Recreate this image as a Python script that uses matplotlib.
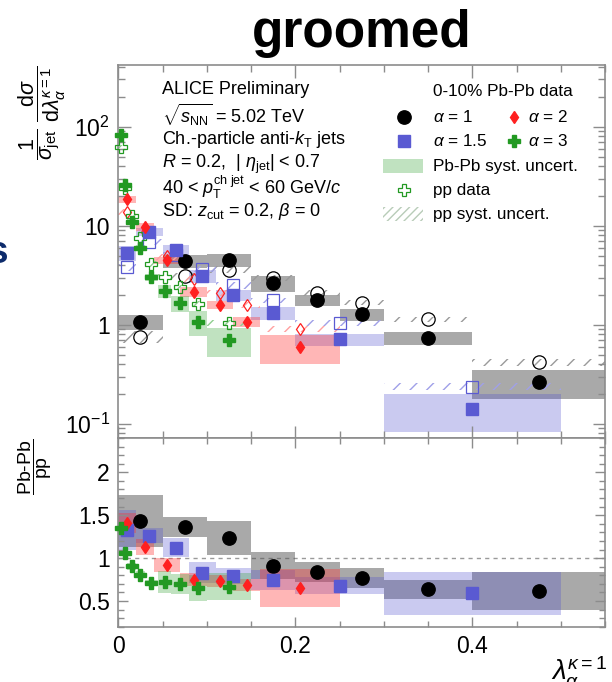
import numpy as np
import matplotlib.pyplot as plt
from matplotlib.patches import Rectangle
from matplotlib.ticker import FixedLocator, MultipleLocator, NullFormatter, LogLocator

plt.rcParams["font.family"] = ["Liberation Sans", "DejaVu Sans"]
plt.rcParams["mathtext.fontset"] = "custom"
plt.rcParams["mathtext.rm"] = "Liberation Sans"
plt.rcParams["mathtext.it"] = "Liberation Sans:italic"
plt.rcParams["mathtext.bf"] = "Liberation Sans:bold"
plt.rcParams["hatch.linewidth"] = 1.0

# alpha = 1
a1_edges = [0, 0.05, 0.1, 0.15, 0.2, 0.25, 0.3, 0.4, 0.55]
a1_pbpb = [1.08, 4.4, 4.5, 2.63, 1.78, 1.28, 0.73, 0.265]
a1_pbpb_sys = [0.17, 0.15, 0.14, 0.19, 0.12, 0.14, 0.15, 0.33]
a1_pp = [0.76, 3.1, 3.6, 2.95, 2.11, 1.67, 1.14, 0.42]
a1_pp_sys = [0.14, 0.08, 0.08, 0.07, 0.07, 0.06, 0.06, 0.08]
a1_ratio = [1.43, 1.365, 1.235, 0.913, 0.843, 0.765, 0.635, 0.62]
a1_ratio_sys = [0.30, 0.115, 0.20, 0.16, 0.117, 0.117, 0.107, 0.22]

# alpha = 1.5
a15_edges = [0, 0.02, 0.05, 0.08, 0.11, 0.15, 0.2, 0.3, 0.5]
a15_pbpb = [5.35, 8.7, 5.7, 3.1, 2.0, 1.31, 0.716, 0.142]
a15_pbpb_sys = [0.18, 0.10, 0.12, 0.15, 0.12, 0.15, 0.14, 0.42]
a15_pp = [3.8, 6.9, 5.1, 3.7, 2.5, 1.78, 1.05, 0.238]
a15_pp_sys = [0.08, 0.07, 0.07, 0.07, 0.07, 0.06, 0.07, 0.08]
a15_ratio = [1.33, 1.26, 1.12, 0.83, 0.79, 0.745, 0.68, 0.588]
a15_ratio_sys = [0.235, 0.085, 0.11, 0.125, 0.09, 0.115, 0.10, 0.25]

# alpha = 2
a2_edges = [0, 0.02, 0.04, 0.07, 0.1, 0.13, 0.16, 0.25]
a2_pbpb = [18.5, 9.8, 4.5, 2.16, 1.59, 1.08, 0.594]
a2_pbpb_sys = [0.08, 0.09, 0.08, 0.12, 0.10, 0.12, 0.33]
a2_pp = [13.9, 8.7, 4.9, 2.88, 2.11, 1.59, 0.90]
a2_pp_sys = [0.07, 0.07, 0.07, 0.07, 0.07, 0.07, 0.07]
a2_ratio = [1.41, 1.13, 0.92, 0.75, 0.73, 0.69, 0.647]
a2_ratio_sys = [0.12, 0.09, 0.08, 0.08, 0.07, 0.07, 0.22]

# alpha = 3
a3_edges = [0, 0.005, 0.01, 0.02, 0.03, 0.045, 0.06, 0.08, 0.1, 0.15]
a3_pbpb = [82, 25.8, 11.0, 5.93, 3.02, 2.21, 1.65, 1.08, 0.70]
a3_pbpb_sys = [0.06, 0.06, 0.06, 0.07, 0.08, 0.15, 0.18, 0.28, 0.32]
a3_pp = [62, 24.3, 12.5, 7.5, 4.12, 3.06, 2.4, 1.63, 1.05]
a3_pp_sys = [0.06, 0.06, 0.06, 0.06, 0.06, 0.06, 0.06, 0.07, 0.07]
a3_ratio = [1.35, 1.06, 0.905, 0.805, 0.71, 0.725, 0.70, 0.647, 0.666]
a3_ratio_sys = [0.04, 0.04, 0.04, 0.04, 0.04, 0.13, 0.12, 0.15, 0.16]

series = [
    dict(edges=a1_edges, pbpb=a1_pbpb, pbpb_sys=a1_pbpb_sys, pp=a1_pp, pp_sys=a1_pp_sys,
         ratio=a1_ratio, ratio_sys=a1_ratio_sys, color="black", band="#555555", band_alpha=0.5,
         hatch="#9a9a9a", marker="o", ms=9.6),
    dict(edges=a15_edges, pbpb=a15_pbpb, pbpb_sys=a15_pbpb_sys, pp=a15_pp, pp_sys=a15_pp_sys,
         ratio=a15_ratio, ratio_sys=a15_ratio_sys, color="#5a5ad2", band="#5050d0", band_alpha=0.3,
         hatch="#a0a0e8", marker="s", ms=9.2),
    dict(edges=a2_edges, pbpb=a2_pbpb, pbpb_sys=a2_pbpb_sys, pp=a2_pp, pp_sys=a2_pp_sys,
         ratio=a2_ratio, ratio_sys=a2_ratio_sys, color="#ff2020", band="#ff3030", band_alpha=0.35,
         hatch="#ffa0a0", marker="d", ms=6.0),
    dict(edges=a3_edges, pbpb=a3_pbpb, pbpb_sys=a3_pbpb_sys, pp=a3_pp, pp_sys=a3_pp_sys,
         ratio=a3_ratio, ratio_sys=a3_ratio_sys, color="#229922", band="#30a030", band_alpha=0.3,
         hatch="#90d090", marker="P", ms=9.2),
]

W, H = 612, 682
fig = plt.figure(figsize=(W / 100, H / 100), dpi=100)
ax = fig.add_axes([118.3 / W, 1 - 438 / H, (605 - 118.3) / W, (438 - 65) / H])
axr = fig.add_axes([118.3 / W, 1 - 626.7 / H, (605 - 118.3) / W, (626.7 - 438) / H])

# systematic bands
for s in series:
    e = np.asarray(s["edges"])
    lo, wd = e[:-1], np.diff(e)
    v = np.asarray(s["pbpb"]); dv = v * np.asarray(s["pbpb_sys"])
    ax.bar(lo, 2 * dv, width=wd, bottom=v - dv, align="edge", color=s["band"],
           alpha=s["band_alpha"], linewidth=0, zorder=1)
    p = np.asarray(s["pp"]); dp = p * np.asarray(s["pp_sys"])
    ax.bar(lo, 2 * dp, width=wd, bottom=p - dp, align="edge", facecolor="none",
           edgecolor=s["hatch"], hatch="//", linewidth=0, zorder=1.5)
    r = np.asarray(s["ratio"]); dr = np.asarray(s["ratio_sys"])
    axr.bar(lo, 2 * dr, width=wd, bottom=r - dr, align="edge", color=s["band"],
            alpha=s["band_alpha"], linewidth=0, zorder=1)

# data points
for s in series:
    e = np.asarray(s["edges"])
    x = 0.5 * (e[:-1] + e[1:])
    ax.plot(x, s["pbpb"], ls="none", marker=s["marker"], ms=s["ms"], color=s["color"],
            mec=s["color"], zorder=4, clip_on=False)
    ax.plot(x, s["pp"], ls="none", marker=s["marker"], ms=s["ms"], mfc="none",
            mec=s["color"], mew=0.9, zorder=3, clip_on=False)
    axr.plot(x, s["ratio"], ls="none", marker=s["marker"], ms=s["ms"], color=s["color"],
             mec=s["color"], zorder=4, clip_on=False)

axr.axhline(1, color="#9a9a9a", ls=(0, (3, 3)), lw=1, zorder=0.5)

# axes styling
for a in (ax, axr):
    for sp in a.spines.values():
        sp.set_color("#8c8c8c")
        sp.set_linewidth(1.2)
    a.set_xlim(0, 0.55)
    a.xaxis.set_major_locator(FixedLocator([0, 0.2, 0.4]))
    a.xaxis.set_minor_locator(MultipleLocator(0.05))
    a.tick_params(which="both", direction="in", top=True, right=True, color="#8c8c8c",
                  labelsize=16.5, width=1, pad=6)

ax.set_yscale("log")
ax.set_ylim(0.072, 420)
ax.yaxis.set_major_locator(FixedLocator([0.1, 1, 10, 100]))
ax.set_yticklabels([r"$10^{-1}$", "1", "10", r"$10^{2}$"])
ax.yaxis.set_minor_locator(LogLocator(subs=np.arange(2, 10)))
ax.yaxis.set_minor_formatter(NullFormatter())
ax.tick_params(which="major", length=9)
ax.tick_params(which="minor", length=5)
ax.tick_params(axis="x", labelbottom=False)

axr.set_ylim(0.2, 2.4)
axr.yaxis.set_major_locator(FixedLocator([0.5, 1, 1.5, 2]))
axr.set_yticklabels(["0.5", "1", "1.5", "2"])
axr.yaxis.set_minor_locator(MultipleLocator(0.1))
axr.set_xticklabels(["0", "0.2", "0.4"])
axr.tick_params(which="major", length=7)
axr.tick_params(which="minor", length=4)

# text block
info = [
    "ALICE Preliminary",
    r"$\sqrt{s_{\rm NN}}$ = 5.02 TeV",
    r"Ch.-particle anti-$k_{\rm T}$ jets",
    r"$R$ = 0.2,  | $\eta_{\rm jet}$| < 0.7",
    r"40 < $p_{\rm T}^{\rm ch\ jet}$ < 60 GeV/$c$",
    r"SD: $z_{\rm cut}$ = 0.2, $\beta$ = 0",
]
info_y = [90, 115, 139, 164, 187, 211.7]
for t, py in zip(info, info_y):
    ax.text(0.0898, 1 - (py - 65) / 373, t, transform=ax.transAxes, fontsize=13,
            ha="left", va="center")


# legend
def ax_xy(px, py):
    return (px - 118.3) / 486.7, 1 - (py - 65) / 373


lg = 12.3
ax.text(*ax_xy(433, 92), "0-10% Pb-Pb data", transform=ax.transAxes, fontsize=lg, va="center")
legend_rows = [
    (404, 117, series[0], r"$\alpha$ = 1", 433),
    (514, 117, series[2], r"$\alpha$ = 2", 528),
    (404, 141, series[1], r"$\alpha$ = 1.5", 433),
    (514, 141, series[3], r"$\alpha$ = 3", 528),
]
for mx, my, s, lab, tx in legend_rows:
    ax.plot(*ax_xy(mx, my), marker=s["marker"], ms=s["ms"], color=s["color"],
            transform=ax.transAxes, clip_on=False)
    ax.text(*ax_xy(tx, my), lab, transform=ax.transAxes, fontsize=lg, va="center")

x0, y0 = ax_xy(383, 173)
x1, y1 = ax_xy(423, 159)
ax.add_patch(Rectangle((x0, y0), x1 - x0, y1 - y0, transform=ax.transAxes,
                       facecolor="#30a030", alpha=0.3, linewidth=0))
ax.text(*ax_xy(433, 166), "Pb-Pb syst. uncert.", transform=ax.transAxes, fontsize=lg, va="center")
ax.plot(*ax_xy(404, 190), marker="P", ms=9.2, mfc="none", mec="#229922", mew=0.9,
        transform=ax.transAxes, clip_on=False)
ax.text(*ax_xy(433, 190), "pp data", transform=ax.transAxes, fontsize=lg, va="center")
x0, y0 = ax_xy(383, 221)
x1, y1 = ax_xy(423, 207)
ax.add_patch(Rectangle((x0, y0), x1 - x0, y1 - y0, transform=ax.transAxes,
                       facecolor="none", edgecolor="#b8ccb8", hatch="////", linewidth=0))
ax.text(*ax_xy(433, 214), "pp syst. uncert.", transform=ax.transAxes, fontsize=lg, va="center")

# axis titles
fig.text(42 / W, 1 - 113 / H,
         r"$\dfrac{1}{\sigma_{\rm jet}}\ \dfrac{{\rm d}\sigma}{{\rm d}\lambda_{\alpha}^{\kappa=1}}$",
         rotation=90, ha="center", va="center", fontsize=15.5)
fig.text(35 / W, 1 - 467 / H, r"$\dfrac{\mathrm{Pb}\text{-}\mathrm{Pb}}{\mathrm{pp}}$",
         rotation=90, ha="center", va="center", fontsize=14)
fig.text(607 / W, 1 - 681 / H, r"$\lambda_{\alpha}^{\kappa=1}$", ha="right", va="baseline",
         fontsize=20)

fig.text(362 / W, 1 - 33 / H, "groomed", fontsize=37, fontweight="bold", ha="center", va="center")
fig.text(8 / W, 1 - 253 / H, "s", fontsize=28, fontweight="bold", color="#0d2b6b",
         ha="right", va="center")

fig.savefig("out.png", dpi=100)
